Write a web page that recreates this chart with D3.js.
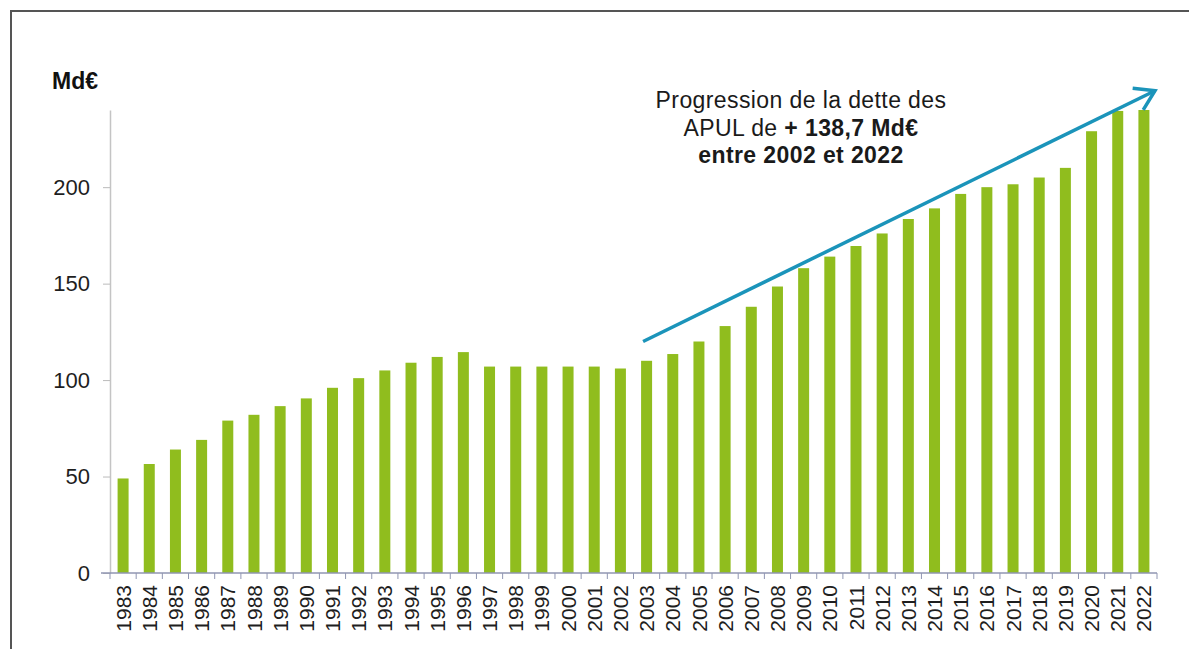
<!DOCTYPE html>
<html>
<head>
<meta charset="utf-8">
<script src="https://cdn.jsdelivr.net/npm/d3@7"></script>
<style>
  body { margin: 0; background: #fff; }
  svg { display: block; font-family: "Liberation Sans", Arial, sans-serif; }
</style>
</head>
<body>
<svg id="chart" width="1189" height="649"></svg>
<script>
// years and debt of the APUL (Md€)
const years = ["1983","1984","1985","1986","1987","1988","1989","1990","1991","1992",
  "1993","1994","1995","1996","1997","1998","1999","2000","2001","2002",
  "2003","2004","2005","2006","2007","2008","2009","2010","2011","2012",
  "2013","2014","2015","2016","2017","2018","2019","2020","2021","2022"];
const debt = [49, 56.5, 64, 69, 79, 82, 86.5, 90.5, 96, 101,
  105, 109, 112, 114.5, 107, 107, 107, 107, 107, 106,
  110, 113.5, 120, 128, 138, 148.5, 158, 164, 169.5, 176,
  183.5, 189, 196.5, 200, 201.5, 205, 210, 229, 239.5, 240];
const yTicks = [0, 50, 100, 150, 200];
const noteLines = [
  [{ t: "Progression de la dette des", b: false }],
  [{ t: "APUL de ", b: false }, { t: "+ 138,7 Md\u20ac", b: true }],
  [{ t: "entre 2002 et 2022", b: true }]
];
// trend arrow: from year 2003 to the end of the axis, in Md€
const arrowFrom = { year: "2003", value: 120 };
const arrowTo = { value: 250 };

const svg = d3.select("#chart");
const plotLeft = 110, plotRight = 1157, plotTop = 110, plotBottom = 573;

const x = d3.scaleBand()
  .domain(years)
  .range([plotLeft, plotRight])
  .paddingInner(0.58)
  .paddingOuter(0.29);

const y = d3.scaleLinear()
  .domain([0, 240])
  .range([plotBottom, plotTop]);

// frame
svg.append("path")
  .attr("d", "M11,649 L11,11 L1189,11")
  .attr("fill", "none")
  .attr("stroke", "#555")
  .attr("stroke-width", 2);

// y axis
const yAxis = svg.append("g")
  .attr("transform", `translate(${plotLeft},0)`)
  .call(d3.axisLeft(y).tickValues(yTicks).tickSize(7).tickSizeOuter(0).tickPadding(13));
yAxis.select(".domain").attr("stroke", "#c4c4c4").attr("stroke-width", 1.5);
yAxis.selectAll(".tick line").attr("stroke", "#bbb");
yAxis.selectAll(".tick text")
  .attr("fill", "#1e1e1e")
  .style("font-size", "22px");

// bars
svg.append("g")
  .selectAll("rect")
  .data(years)
  .enter().append("rect")
    .attr("x", d => x(d))
    .attr("width", x.bandwidth())
    .attr("y", (d, i) => y(debt[i]))
    .attr("height", (d, i) => y(0) - y(debt[i]))
    .attr("fill", "#90bd1e");

// x axis line and ticks between categories
const xg = svg.append("g");
xg.append("line")
  .attr("x1", plotLeft - 9).attr("x2", plotRight)
  .attr("y1", plotBottom).attr("y2", plotBottom)
  .attr("stroke", "#9096b2")
  .attr("stroke-width", 1.5);
xg.selectAll("line.tk")
  .data(d3.range(years.length + 1))
  .enter().append("line")
    .attr("class", "tk")
    .attr("x1", i => plotLeft + i * x.step())
    .attr("x2", i => plotLeft + i * x.step())
    .attr("y1", plotBottom)
    .attr("y2", plotBottom + 6)
    .attr("stroke", "#9096b2");
xg.selectAll("text")
  .data(years)
  .enter().append("text")
    .attr("transform", d => `translate(${x(d) + x.bandwidth() / 2},${plotBottom + 12}) rotate(-90)`)
    .attr("text-anchor", "end")
    .attr("dy", "0.36em")
    .attr("fill", "#1e1e1e")
    .style("font-size", "21px")
    .text(d => d);

// unit label
svg.append("text")
  .attr("x", 52).attr("y", 89)
  .attr("fill", "#111")
  .style("font-size", "23px")
  .style("font-weight", "bold")
  .text("Md\u20ac");

// trend arrow
const defs = svg.append("defs");
defs.append("marker")
  .attr("id", "head")
  .attr("markerUnits", "userSpaceOnUse")
  .attr("viewBox", "-24 -14 28 28")
  .attr("markerWidth", 28).attr("markerHeight", 28)
  .attr("refX", 0).attr("refY", 0)
  .attr("orient", "auto")
  .append("path")
    .attr("d", "M-19,-12 L0,0 L-19,12")
    .attr("fill", "none")
    .attr("stroke", "#1b94ba")
    .attr("stroke-width", 3.5);

svg.append("line")
  .attr("x1", x(arrowFrom.year) + 2)
  .attr("y1", y(arrowFrom.value))
  .attr("x2", plotRight - 2)
  .attr("y2", y(arrowTo.value))
  .attr("stroke", "#1b94ba")
  .attr("stroke-width", 3.5)
  .attr("marker-end", "url(#head)");

// annotation
const note = svg.append("text")
  .attr("text-anchor", "middle")
  .attr("fill", "#1a1a1a")
  .style("font-size", "23px")
  .style("letter-spacing", "0.4px");
noteLines.forEach((parts, i) => {
  const line = note.append("tspan")
    .attr("x", 801)
    .attr("y", 108 + i * 27.5);
  parts.forEach(p => {
    line.append("tspan")
      .style("font-weight", p.b ? "bold" : "normal")
      .text(p.t);
  });
});
</script>
</body>
</html>
